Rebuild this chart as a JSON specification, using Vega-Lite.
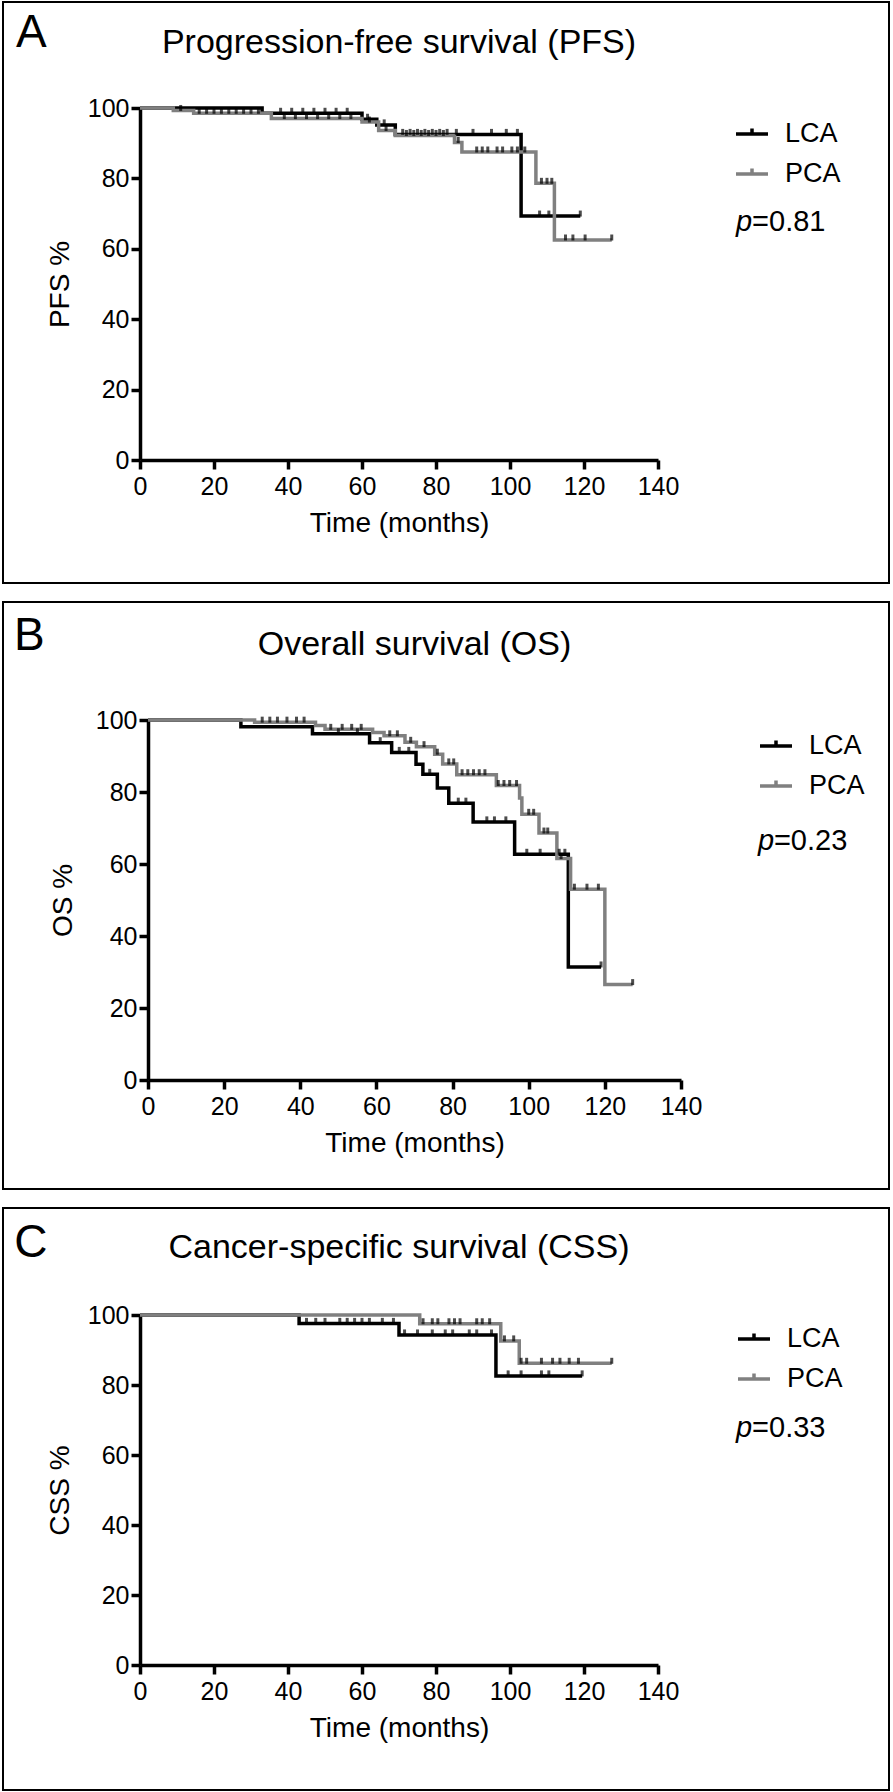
{
  "$schema": "https://vega.github.io/schema/vega-lite/v6.json",
  "padding": {"left": 2, "top": 1, "right": 0, "bottom": 0},
  "background": "white",
  "spacing": 19,
  "bounds": "flush",
  "resolve": {"scale": {"color": "independent"}, "legend": {"color": "independent"}},
  "datasets": {
    "km": [
      {"p":"A","g":"LCA","t":0,"s":100,"c":0},
      {"p":"A","g":"LCA","t":33,"s":98.5,"c":0},
      {"p":"A","g":"LCA","t":38,"s":98.5,"c":1},
      {"p":"A","g":"LCA","t":41,"s":98.5,"c":1},
      {"p":"A","g":"LCA","t":44,"s":98.5,"c":1},
      {"p":"A","g":"LCA","t":47,"s":98.5,"c":1},
      {"p":"A","g":"LCA","t":50,"s":98.5,"c":1},
      {"p":"A","g":"LCA","t":53,"s":98.5,"c":1},
      {"p":"A","g":"LCA","t":56,"s":98.5,"c":1},
      {"p":"A","g":"LCA","t":60,"s":96.8,"c":0},
      {"p":"A","g":"LCA","t":61.5,"s":96.8,"c":1},
      {"p":"A","g":"LCA","t":64,"s":95.2,"c":0},
      {"p":"A","g":"LCA","t":66,"s":95.2,"c":1},
      {"p":"A","g":"LCA","t":69,"s":92.5,"c":0},
      {"p":"A","g":"LCA","t":71,"s":92.5,"c":1},
      {"p":"A","g":"LCA","t":73,"s":92.5,"c":1},
      {"p":"A","g":"LCA","t":75,"s":92.5,"c":1},
      {"p":"A","g":"LCA","t":77,"s":92.5,"c":1},
      {"p":"A","g":"LCA","t":79,"s":92.5,"c":1},
      {"p":"A","g":"LCA","t":81,"s":92.5,"c":1},
      {"p":"A","g":"LCA","t":83,"s":92.5,"c":1},
      {"p":"A","g":"LCA","t":85.5,"s":92.5,"c":1},
      {"p":"A","g":"LCA","t":90,"s":92.5,"c":1},
      {"p":"A","g":"LCA","t":95,"s":92.5,"c":1},
      {"p":"A","g":"LCA","t":99,"s":92.5,"c":1},
      {"p":"A","g":"LCA","t":102,"s":92.5,"c":1},
      {"p":"A","g":"LCA","t":103,"s":69.3,"c":0},
      {"p":"A","g":"LCA","t":108,"s":69.3,"c":1},
      {"p":"A","g":"LCA","t":110.5,"s":69.3,"c":1},
      {"p":"A","g":"LCA","t":119,"s":69.3,"c":1},

      {"p":"A","g":"PCA","t":0,"s":100,"c":0},
      {"p":"A","g":"PCA","t":9,"s":99.3,"c":0},
      {"p":"A","g":"PCA","t":11,"s":99.3,"c":1},
      {"p":"A","g":"PCA","t":14.5,"s":98.5,"c":0},
      {"p":"A","g":"PCA","t":16,"s":98.5,"c":1},
      {"p":"A","g":"PCA","t":18,"s":98.5,"c":1},
      {"p":"A","g":"PCA","t":20,"s":98.5,"c":1},
      {"p":"A","g":"PCA","t":22,"s":98.5,"c":1},
      {"p":"A","g":"PCA","t":24,"s":98.5,"c":1},
      {"p":"A","g":"PCA","t":26,"s":98.5,"c":1},
      {"p":"A","g":"PCA","t":28,"s":98.5,"c":1},
      {"p":"A","g":"PCA","t":30,"s":98.5,"c":1},
      {"p":"A","g":"PCA","t":32,"s":98.5,"c":1},
      {"p":"A","g":"PCA","t":35.5,"s":97.0,"c":0},
      {"p":"A","g":"PCA","t":39,"s":97.0,"c":1},
      {"p":"A","g":"PCA","t":42,"s":97.0,"c":1},
      {"p":"A","g":"PCA","t":45,"s":97.0,"c":1},
      {"p":"A","g":"PCA","t":48,"s":97.0,"c":1},
      {"p":"A","g":"PCA","t":51,"s":97.0,"c":1},
      {"p":"A","g":"PCA","t":54,"s":97.0,"c":1},
      {"p":"A","g":"PCA","t":57,"s":97.0,"c":1},
      {"p":"A","g":"PCA","t":60,"s":96.0,"c":0},
      {"p":"A","g":"PCA","t":62,"s":96.0,"c":1},
      {"p":"A","g":"PCA","t":64.5,"s":93.6,"c":0},
      {"p":"A","g":"PCA","t":66.5,"s":93.6,"c":1},
      {"p":"A","g":"PCA","t":69,"s":92.2,"c":0},
      {"p":"A","g":"PCA","t":72,"s":92.2,"c":1},
      {"p":"A","g":"PCA","t":74,"s":92.2,"c":1},
      {"p":"A","g":"PCA","t":76,"s":92.2,"c":1},
      {"p":"A","g":"PCA","t":78,"s":92.2,"c":1},
      {"p":"A","g":"PCA","t":80,"s":92.2,"c":1},
      {"p":"A","g":"PCA","t":82,"s":92.2,"c":1},
      {"p":"A","g":"PCA","t":85,"s":90.2,"c":0},
      {"p":"A","g":"PCA","t":86,"s":90.2,"c":1},
      {"p":"A","g":"PCA","t":87,"s":87.5,"c":0},
      {"p":"A","g":"PCA","t":91,"s":87.5,"c":1},
      {"p":"A","g":"PCA","t":92.5,"s":87.5,"c":1},
      {"p":"A","g":"PCA","t":94,"s":87.5,"c":1},
      {"p":"A","g":"PCA","t":96.5,"s":87.5,"c":1},
      {"p":"A","g":"PCA","t":98,"s":87.5,"c":1},
      {"p":"A","g":"PCA","t":100.5,"s":87.5,"c":1},
      {"p":"A","g":"PCA","t":102,"s":87.5,"c":1},
      {"p":"A","g":"PCA","t":104,"s":87.5,"c":1},
      {"p":"A","g":"PCA","t":107,"s":78.6,"c":0},
      {"p":"A","g":"PCA","t":108.5,"s":78.6,"c":1},
      {"p":"A","g":"PCA","t":110,"s":78.6,"c":1},
      {"p":"A","g":"PCA","t":111.3,"s":78.6,"c":1},
      {"p":"A","g":"PCA","t":112,"s":62.5,"c":0},
      {"p":"A","g":"PCA","t":115,"s":62.5,"c":1},
      {"p":"A","g":"PCA","t":117,"s":62.5,"c":1},
      {"p":"A","g":"PCA","t":120.3,"s":62.5,"c":1},
      {"p":"A","g":"PCA","t":127.5,"s":62.5,"c":1},

      {"p":"B","g":"LCA","t":0,"s":100,"c":0},
      {"p":"B","g":"LCA","t":24.4,"s":98.1,"c":0},
      {"p":"B","g":"LCA","t":43.2,"s":96.2,"c":0},
      {"p":"B","g":"LCA","t":50,"s":96.2,"c":1},
      {"p":"B","g":"LCA","t":55,"s":96.2,"c":1},
      {"p":"B","g":"LCA","t":58.2,"s":93.7,"c":0},
      {"p":"B","g":"LCA","t":61,"s":93.7,"c":1},
      {"p":"B","g":"LCA","t":64,"s":91.0,"c":0},
      {"p":"B","g":"LCA","t":66,"s":91.0,"c":1},
      {"p":"B","g":"LCA","t":68.5,"s":91.0,"c":1},
      {"p":"B","g":"LCA","t":70.4,"s":87.7,"c":0},
      {"p":"B","g":"LCA","t":72.2,"s":84.9,"c":0},
      {"p":"B","g":"LCA","t":74,"s":84.9,"c":1},
      {"p":"B","g":"LCA","t":76,"s":81.1,"c":0},
      {"p":"B","g":"LCA","t":79,"s":76.9,"c":0},
      {"p":"B","g":"LCA","t":81.5,"s":76.9,"c":1},
      {"p":"B","g":"LCA","t":83.5,"s":76.9,"c":1},
      {"p":"B","g":"LCA","t":85.4,"s":71.7,"c":0},
      {"p":"B","g":"LCA","t":89,"s":71.7,"c":1},
      {"p":"B","g":"LCA","t":91,"s":71.7,"c":1},
      {"p":"B","g":"LCA","t":94,"s":71.7,"c":1},
      {"p":"B","g":"LCA","t":96.3,"s":62.7,"c":0},
      {"p":"B","g":"LCA","t":99.5,"s":62.7,"c":1},
      {"p":"B","g":"LCA","t":103,"s":62.7,"c":1},
      {"p":"B","g":"LCA","t":108,"s":62.7,"c":1},
      {"p":"B","g":"LCA","t":109.5,"s":62.7,"c":1},
      {"p":"B","g":"LCA","t":110.4,"s":31.4,"c":0},
      {"p":"B","g":"LCA","t":119,"s":31.4,"c":1},

      {"p":"B","g":"PCA","t":0,"s":100,"c":0},
      {"p":"B","g":"PCA","t":28,"s":99.4,"c":0},
      {"p":"B","g":"PCA","t":30,"s":99.4,"c":1},
      {"p":"B","g":"PCA","t":32,"s":99.4,"c":1},
      {"p":"B","g":"PCA","t":34,"s":99.4,"c":1},
      {"p":"B","g":"PCA","t":36.5,"s":99.4,"c":1},
      {"p":"B","g":"PCA","t":39,"s":99.4,"c":1},
      {"p":"B","g":"PCA","t":41,"s":99.4,"c":1},
      {"p":"B","g":"PCA","t":44,"s":98.5,"c":0},
      {"p":"B","g":"PCA","t":46.5,"s":97.4,"c":0},
      {"p":"B","g":"PCA","t":48,"s":97.4,"c":1},
      {"p":"B","g":"PCA","t":51,"s":97.4,"c":1},
      {"p":"B","g":"PCA","t":53.5,"s":97.4,"c":1},
      {"p":"B","g":"PCA","t":56,"s":97.4,"c":1},
      {"p":"B","g":"PCA","t":59,"s":96.5,"c":0},
      {"p":"B","g":"PCA","t":62,"s":95.6,"c":0},
      {"p":"B","g":"PCA","t":63.5,"s":95.6,"c":1},
      {"p":"B","g":"PCA","t":65.5,"s":95.6,"c":1},
      {"p":"B","g":"PCA","t":67.5,"s":93.8,"c":0},
      {"p":"B","g":"PCA","t":69,"s":93.8,"c":1},
      {"p":"B","g":"PCA","t":70.5,"s":92.6,"c":0},
      {"p":"B","g":"PCA","t":72.5,"s":92.6,"c":1},
      {"p":"B","g":"PCA","t":75.3,"s":90.5,"c":0},
      {"p":"B","g":"PCA","t":76,"s":90.5,"c":1},
      {"p":"B","g":"PCA","t":77.4,"s":87.8,"c":0},
      {"p":"B","g":"PCA","t":79,"s":87.8,"c":1},
      {"p":"B","g":"PCA","t":80.3,"s":87.8,"c":1},
      {"p":"B","g":"PCA","t":81.1,"s":84.8,"c":0},
      {"p":"B","g":"PCA","t":82.5,"s":84.8,"c":1},
      {"p":"B","g":"PCA","t":84,"s":84.8,"c":1},
      {"p":"B","g":"PCA","t":85.5,"s":84.8,"c":1},
      {"p":"B","g":"PCA","t":87,"s":84.8,"c":1},
      {"p":"B","g":"PCA","t":88.5,"s":84.8,"c":1},
      {"p":"B","g":"PCA","t":91.5,"s":81.8,"c":0},
      {"p":"B","g":"PCA","t":92,"s":81.8,"c":1},
      {"p":"B","g":"PCA","t":93.5,"s":81.8,"c":1},
      {"p":"B","g":"PCA","t":95,"s":81.8,"c":1},
      {"p":"B","g":"PCA","t":96.8,"s":81.8,"c":1},
      {"p":"B","g":"PCA","t":97.6,"s":78.3,"c":0},
      {"p":"B","g":"PCA","t":98.2,"s":73.8,"c":0},
      {"p":"B","g":"PCA","t":100,"s":73.8,"c":1},
      {"p":"B","g":"PCA","t":101.3,"s":73.8,"c":1},
      {"p":"B","g":"PCA","t":102.7,"s":68.6,"c":0},
      {"p":"B","g":"PCA","t":104,"s":68.6,"c":1},
      {"p":"B","g":"PCA","t":105,"s":68.6,"c":1},
      {"p":"B","g":"PCA","t":107.4,"s":61.5,"c":0},
      {"p":"B","g":"PCA","t":108.5,"s":61.5,"c":1},
      {"p":"B","g":"PCA","t":111,"s":53.0,"c":0},
      {"p":"B","g":"PCA","t":112,"s":53.0,"c":1},
      {"p":"B","g":"PCA","t":115.3,"s":53.0,"c":1},
      {"p":"B","g":"PCA","t":118.3,"s":53.0,"c":1},
      {"p":"B","g":"PCA","t":120,"s":26.5,"c":0},
      {"p":"B","g":"PCA","t":127.3,"s":26.5,"c":1},

      {"p":"C","g":"LCA","t":0,"s":100,"c":0},
      {"p":"C","g":"LCA","t":43,"s":97.6,"c":0},
      {"p":"C","g":"LCA","t":45,"s":97.6,"c":1},
      {"p":"C","g":"LCA","t":47.5,"s":97.6,"c":1},
      {"p":"C","g":"LCA","t":50,"s":97.6,"c":1},
      {"p":"C","g":"LCA","t":54,"s":97.6,"c":1},
      {"p":"C","g":"LCA","t":56,"s":97.6,"c":1},
      {"p":"C","g":"LCA","t":58,"s":97.6,"c":1},
      {"p":"C","g":"LCA","t":60,"s":97.6,"c":1},
      {"p":"C","g":"LCA","t":62,"s":97.6,"c":1},
      {"p":"C","g":"LCA","t":65.5,"s":97.6,"c":1},
      {"p":"C","g":"LCA","t":68.5,"s":97.6,"c":1},
      {"p":"C","g":"LCA","t":70,"s":94.3,"c":0},
      {"p":"C","g":"LCA","t":71.5,"s":94.3,"c":1},
      {"p":"C","g":"LCA","t":75,"s":94.3,"c":1},
      {"p":"C","g":"LCA","t":79,"s":94.3,"c":1},
      {"p":"C","g":"LCA","t":82.5,"s":94.3,"c":1},
      {"p":"C","g":"LCA","t":84.5,"s":94.3,"c":1},
      {"p":"C","g":"LCA","t":89,"s":94.3,"c":1},
      {"p":"C","g":"LCA","t":91,"s":94.3,"c":1},
      {"p":"C","g":"LCA","t":95,"s":94.3,"c":1},
      {"p":"C","g":"LCA","t":96.2,"s":82.6,"c":0},
      {"p":"C","g":"LCA","t":99.5,"s":82.6,"c":1},
      {"p":"C","g":"LCA","t":103,"s":82.6,"c":1},
      {"p":"C","g":"LCA","t":108.5,"s":82.6,"c":1},
      {"p":"C","g":"LCA","t":110.5,"s":82.6,"c":1},
      {"p":"C","g":"LCA","t":119.5,"s":82.6,"c":1},

      {"p":"C","g":"PCA","t":0,"s":100,"c":0},
      {"p":"C","g":"PCA","t":75.6,"s":97.5,"c":0},
      {"p":"C","g":"PCA","t":76.5,"s":97.5,"c":1},
      {"p":"C","g":"PCA","t":79,"s":97.5,"c":1},
      {"p":"C","g":"PCA","t":80.5,"s":97.5,"c":1},
      {"p":"C","g":"PCA","t":83.5,"s":97.5,"c":1},
      {"p":"C","g":"PCA","t":85,"s":97.5,"c":1},
      {"p":"C","g":"PCA","t":86.5,"s":97.5,"c":1},
      {"p":"C","g":"PCA","t":91,"s":97.5,"c":1},
      {"p":"C","g":"PCA","t":92.5,"s":97.5,"c":1},
      {"p":"C","g":"PCA","t":94.5,"s":97.5,"c":1},
      {"p":"C","g":"PCA","t":97.5,"s":92.6,"c":0},
      {"p":"C","g":"PCA","t":98.5,"s":92.6,"c":1},
      {"p":"C","g":"PCA","t":101,"s":92.6,"c":1},
      {"p":"C","g":"PCA","t":102.5,"s":86.2,"c":0},
      {"p":"C","g":"PCA","t":103,"s":86.2,"c":1},
      {"p":"C","g":"PCA","t":104.5,"s":86.2,"c":1},
      {"p":"C","g":"PCA","t":108.5,"s":86.2,"c":1},
      {"p":"C","g":"PCA","t":111.5,"s":86.2,"c":1},
      {"p":"C","g":"PCA","t":113.5,"s":86.2,"c":1},
      {"p":"C","g":"PCA","t":116,"s":86.2,"c":1},
      {"p":"C","g":"PCA","t":118.5,"s":86.2,"c":1},
      {"p":"C","g":"PCA","t":127.5,"s":86.2,"c":1}
    ]
  },
  "vconcat": [
    {
      "width": 886, "height": 581,
      "title": {"text": "Progression-free survival (PFS)", "offset": -58, "dx": -47},
      "layer": [
        {
          "data": {"name": "km"},
          "transform": [{"filter": "datum.p === 'A'"}],
          "mark": {"type": "line", "interpolate": "step-after", "strokeWidth": 3.5},
          "encoding": {
            "x": {"field": "t", "type": "quantitative",
                  "scale": {"domain": [0, 140], "range": [137, 655], "nice": false, "zero": false},
                  "axis": {"title": "Time (months)", "values": [0,20,40,60,80,100,120,140], "offset": -123, "labelPadding": 5, "titlePadding": 10}},
            "y": {"field": "s", "type": "quantitative",
                  "scale": {"domain": [0, 100], "range": [458, 106], "nice": false, "zero": false},
                  "axis": {"title": "PFS %", "values": [0,20,40,60,80,100], "offset": -137, "labelPadding": 2, "titlePadding": 13}},
            "color": {"field": "g", "type": "nominal",
                      "scale": {"domain": ["LCA", "PCA"], "range": ["#000000", "#808080"]},
                      "legend": {"title": null, "orient": "none", "legendX": 731, "legendY": 114}}
          }
        },
        {
          "data": {"name": "km"},
          "transform": [{"filter": "datum.p === 'A' && datum.c === 1"}],
          "mark": {"type": "tick", "orient": "vertical", "size": 6, "thickness": 3, "color": "#000000", "yOffset": -2.5},
          "encoding": {"x": {"field": "t", "type": "quantitative"}, "y": {"field": "s", "type": "quantitative"}}
        },
        {
          "data": {"values": [{}]},
          "mark": {"type": "text", "text": "A", "fontSize": 46, "align": "left", "baseline": "alphabetic"},
          "encoding": {"x": {"datum": -33.5}, "y": {"datum": 117.3}}
        },
        {
          "data": {"values": [{}]},
          "mark": {"type": "text", "text": "p", "fontSize": 29, "fontStyle": "italic", "align": "left", "baseline": "alphabetic"},
          "encoding": {"x": {"datum": 161.1}, "y": {"datum": 65.1}}
        },
        {
          "data": {"values": [{}]},
          "mark": {"type": "text", "text": "=0.81", "fontSize": 29, "align": "left", "baseline": "alphabetic", "dx": 16},
          "encoding": {"x": {"datum": 161.1}, "y": {"datum": 65.1}}
        }
      ]
    },
    {
      "width": 886, "height": 587,
      "title": {"text": "Overall survival (OS)", "offset": -60, "dx": -31.5},
      "layer": [
        {
          "data": {"name": "km"},
          "transform": [{"filter": "datum.p === 'B'"}],
          "mark": {"type": "line", "interpolate": "step-after", "strokeWidth": 3.5},
          "encoding": {
            "x": {"field": "t", "type": "quantitative",
                  "scale": {"domain": [0, 140], "range": [145, 678], "nice": false, "zero": false},
                  "axis": {"title": "Time (months)", "values": [0,20,40,60,80,100,120,140], "offset": -109, "labelPadding": 5, "titlePadding": 10}},
            "y": {"field": "s", "type": "quantitative",
                  "scale": {"domain": [0, 100], "range": [478, 118], "nice": false, "zero": false},
                  "axis": {"title": "OS %", "values": [0,20,40,60,80,100], "offset": -145, "labelPadding": 2, "titlePadding": 18}},
            "color": {"field": "g", "type": "nominal",
                      "scale": {"domain": ["LCA", "PCA"], "range": ["#000000", "#808080"]},
                      "legend": {"title": null, "orient": "none", "legendX": 755, "legendY": 126}}
          }
        },
        {
          "data": {"name": "km"},
          "transform": [{"filter": "datum.p === 'B' && datum.c === 1"}],
          "mark": {"type": "tick", "orient": "vertical", "size": 6, "thickness": 3, "color": "#000000", "yOffset": -2.5},
          "encoding": {"x": {"field": "t", "type": "quantitative"}, "y": {"field": "s", "type": "quantitative"}}
        },
        {
          "data": {"values": [{}]},
          "mark": {"type": "text", "text": "B", "fontSize": 46, "align": "left", "baseline": "alphabetic"},
          "encoding": {"x": {"datum": -35.2}, "y": {"datum": 119.5}}
        },
        {
          "data": {"values": [{}]},
          "mark": {"type": "text", "text": "p", "fontSize": 29, "fontStyle": "italic", "align": "left", "baseline": "alphabetic"},
          "encoding": {"x": {"datum": 160.2}, "y": {"datum": 63.9}}
        },
        {
          "data": {"values": [{}]},
          "mark": {"type": "text", "text": "=0.23", "fontSize": 29, "align": "left", "baseline": "alphabetic", "dx": 16},
          "encoding": {"x": {"datum": 160.2}, "y": {"datum": 63.9}}
        }
      ]
    },
    {
      "width": 886, "height": 582,
      "title": {"text": "Cancer-specific survival (CSS)", "offset": -57, "dx": -47},
      "layer": [
        {
          "data": {"name": "km"},
          "transform": [{"filter": "datum.p === 'C'"}],
          "mark": {"type": "line", "interpolate": "step-after", "strokeWidth": 3.5},
          "encoding": {
            "x": {"field": "t", "type": "quantitative",
                  "scale": {"domain": [0, 140], "range": [137, 655], "nice": false, "zero": false},
                  "axis": {"title": "Time (months)", "values": [0,20,40,60,80,100,120,140], "offset": -125, "labelPadding": 5, "titlePadding": 10}},
            "y": {"field": "s", "type": "quantitative",
                  "scale": {"domain": [0, 100], "range": [457, 107], "nice": false, "zero": false},
                  "axis": {"title": "CSS %", "values": [0,20,40,60,80,100], "offset": -137, "labelPadding": 2, "titlePadding": 13}},
            "color": {"field": "g", "type": "nominal",
                      "scale": {"domain": ["LCA", "PCA"], "range": ["#000000", "#808080"]},
                      "legend": {"title": null, "orient": "none", "legendX": 733, "legendY": 113}}
          }
        },
        {
          "data": {"name": "km"},
          "transform": [{"filter": "datum.p === 'C' && datum.c === 1"}],
          "mark": {"type": "tick", "orient": "vertical", "size": 6, "thickness": 3, "color": "#000000", "yOffset": -2.5},
          "encoding": {"x": {"field": "t", "type": "quantitative"}, "y": {"field": "s", "type": "quantitative"}}
        },
        {
          "data": {"values": [{}]},
          "mark": {"type": "text", "text": "C", "fontSize": 46, "align": "left", "baseline": "alphabetic"},
          "encoding": {"x": {"datum": -34}, "y": {"datum": 116.5}}
        },
        {
          "data": {"values": [{}]},
          "mark": {"type": "text", "text": "p", "fontSize": 29, "fontStyle": "italic", "align": "left", "baseline": "alphabetic"},
          "encoding": {"x": {"datum": 161.1}, "y": {"datum": 65.1}}
        },
        {
          "data": {"values": [{}]},
          "mark": {"type": "text", "text": "=0.33", "fontSize": 29, "align": "left", "baseline": "alphabetic", "dx": 16},
          "encoding": {"x": {"datum": 161.1}, "y": {"datum": 65.1}}
        }
      ]
    }
  ],
  "config": {
    "font": "Liberation Sans",
    "view": {"stroke": "#000000", "strokeWidth": 2},
    "axis": {"grid": false, "domainColor": "#000000", "domainWidth": 3.5, "tickColor": "#000000", "tickWidth": 3.5, "tickSize": 9,
             "labelFont": "Liberation Sans", "labelFontSize": 25, "labelColor": "#000000", "labelFlush": false, "labelOverlap": false,
             "titleFont": "Liberation Sans", "titleFontSize": 28, "titleFontWeight": "normal", "titleColor": "#000000"},
    "legend": {"labelFont": "Liberation Sans", "labelFontSize": 27, "labelColor": "#000000", "symbolType": "M-1,0H1M0,0V-0.35",
               "symbolSize": 1024, "symbolStrokeWidth": 3.5, "labelOffset": 15, "rowPadding": 9, "padding": 0},
    "title": {"font": "Liberation Sans", "fontSize": 34, "fontWeight": "normal", "color": "#000000", "anchor": "middle", "baseline": "alphabetic"},
    "text": {"font": "Liberation Sans", "color": "#000000"}
  }
}
